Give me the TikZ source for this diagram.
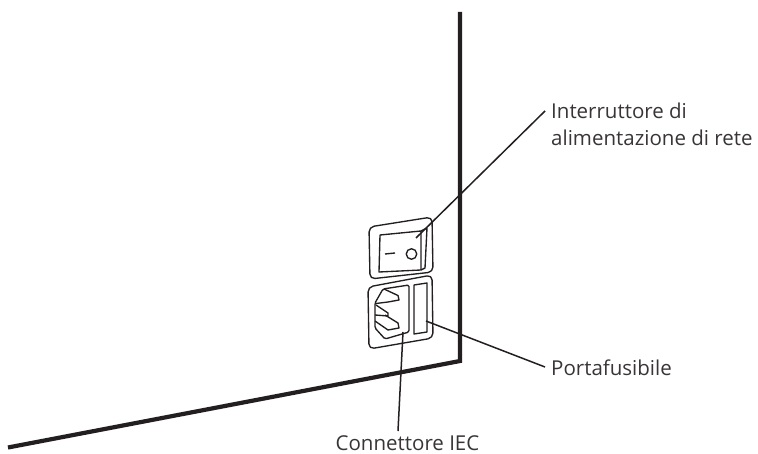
\documentclass[tikz,border=0pt]{standalone}
\usepackage{fontspec}
\setmainfont{Open Sans}
\definecolor{ink}{RGB}{35,31,32}
\tikzset{
  wall/.style={draw=ink,line width=4.2pt,line join=miter},
  part/.style={draw=ink,line width=1.35pt,line join=round},
  leader/.style={draw=ink,line width=1.5pt},
  lab/.style={font=\fontsize{20.5}{27}\selectfont,inner sep=0pt,align=left,text=ink!90},
}
\begin{document}
\begin{tikzpicture}[x=1pt,y=-1pt]
\useasboundingbox (0,0) rectangle (758,454);
% wall
\draw[wall] (460,12) -- (460,361) -- (8,447.5);
% switch panel
\draw[part,rounded corners=5pt] (369,227) -- (432,217) -- (433,272) -- (370,279) -- cycle;
\draw[part] (380,235) -- (421,231) -- (421,270) -- (379,272) -- cycle;
\draw[part] (421,231) -- (427,228) -- (425,268) -- (421,270);
\draw[part] (385,254) -- (395,253);
\node[circle,part,minimum size=10.5pt,inner sep=0pt] (lamp) at (411.5,254) {};
% inlet panel
\draw[part,rounded corners=5pt] (368,287) -- (432,275) -- (433,338) -- (369,349) -- cycle;
\draw[part,rounded corners=1.5pt] (383,289) -- (409,285) -- (409,332) -- (385,339) -- (375,328) -- (375,303) -- cycle;
\draw[part] (384,289) -- (398,295.5) -- (399,300) -- (388,302) -- (376,303.5);
\draw[part] (376,305) -- (388,313) -- (388,316) -- (375,315);
\draw[part] (375,321) -- (388,330) -- (399,328) -- (398,323) -- (385,315);
% fuse holder
\draw[part] (414,285) -- (427,283) -- (427,332) -- (414,334) -- cycle;
% labels
\node[lab,anchor=base west] (sw) at (551,145.7) {Interruttore di\\alimentazione di rete};
\node[lab,anchor=base west] (fu) at (551,376) {Portafusibile};
\node[lab,anchor=base] (iec) at (407.5,450) {Connettore IEC};
\coordinate (swend) at (416,238);
\coordinate (swstart) at (545,111);
\coordinate (fuend) at (426,321);
\coordinate (fustart) at (545,367);
\coordinate (iecend) at (403,332);
\coordinate (iecstart) at (398,431);
\draw[leader] (swstart) -- (swend);
\draw[leader] (fustart) -- (fuend);
\draw[leader] (iecstart) -- (iecend);
\end{tikzpicture}
\end{document}
